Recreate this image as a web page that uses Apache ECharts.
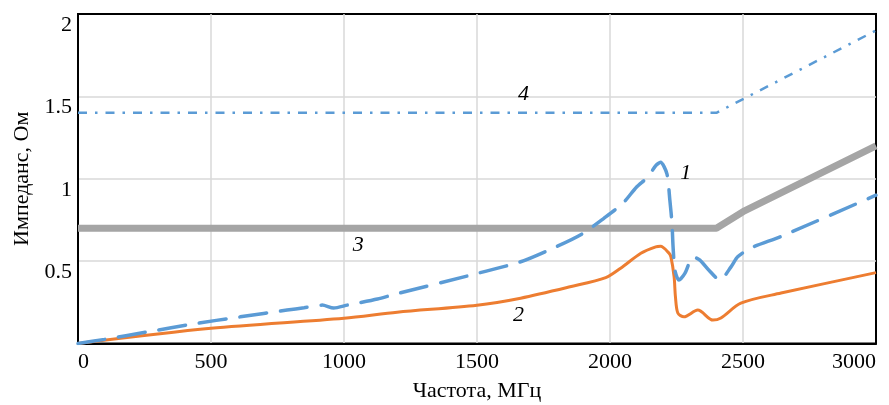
<!DOCTYPE html>
<html>
<head>
<meta charset="utf-8">
<script src="https://cdn.jsdelivr.net/npm/echarts@6/dist/echarts.min.js"></script>
<style>
  html, body { margin: 0; padding: 0; background: #fff; }
  #chart { width: 889px; height: 405px; }
</style>
</head>
<body>
<div id="chart"></div>
<script>
// частоты и импеданс по кривым 1-4
const freq1 = [0, 100, 260, 430, 610, 786, 850, 918, 961, 1013, 1126, 1194, 1500, 1664, 1788, 1890, 1977, 2048, 2100, 2142, 2172, 2190, 2214, 2225, 2233, 2237, 2244, 2259, 2282, 2312, 2338, 2372, 2413, 2455, 2480, 2530, 2643, 3000];
const imp1 = [0, 0.025, 0.07, 0.118, 0.162, 0.203, 0.217, 0.233, 0.215, 0.233, 0.27, 0.30, 0.425, 0.496, 0.58, 0.66, 0.76, 0.85, 0.95, 1.01, 1.08, 1.10, 1.03, 0.87, 0.73, 0.59, 0.445, 0.385, 0.427, 0.526, 0.506, 0.445, 0.385, 0.465, 0.526, 0.58, 0.65, 0.90];

const freq2 = [0, 500, 1000, 1200, 1500, 1664, 1850, 1984, 2040, 2116, 2172, 2190, 2221, 2229, 2241, 2246, 2255, 2278, 2330, 2387, 2417, 2492, 2643, 3000];
const imp2 = [0, 0.092, 0.153, 0.19, 0.232, 0.275, 0.344, 0.40, 0.457, 0.548, 0.587, 0.59, 0.55, 0.526, 0.405, 0.284, 0.185, 0.162, 0.203, 0.142, 0.155, 0.245, 0.306, 0.43];

const freq3 = [0, 2400, 2500, 3000];
const imp3 = [0.7, 0.7, 0.8, 1.2];

const freq4 = [0, 2400, 3000];
const imp4 = [1.4, 1.4, 1.9];

// подписи кривых: номер, частота, импеданс
const curveNames = ['1', '2', '3', '4'];
const nameFreq = [2285, 1656, 1054, 1675];
const nameImp = [1.033, 0.173, 0.597, 1.512];

const xTicks = [0, 500, 1000, 1500, 2000, 2500, 3000];
const yTicks = [0.5, 1, 1.5, 2];

const pairs = (xs, ys) => xs.map((x, i) => [x, ys[i]]);

const font = 'Liberation Serif, Times New Roman, serif';
const chart = echarts.init(document.getElementById('chart'));

chart.setOption({
  animation: false,
  grid: {
    left: 78, right: 13, top: 14, bottom: 61.5,
    outerBoundsMode: 'none',
    show: true, borderColor: '#000', borderWidth: 2
  },
  xAxis: {
    type: 'value', min: 0, max: 3000, interval: 500,
    name: 'Частота, МГц', nameLocation: 'middle', nameGap: 37,
    nameTextStyle: { fontFamily: font, fontSize: 22, color: '#000' },
    axisLine: { show: true, lineStyle: { color: '#000', width: 2 } },
    axisTick: { show: false },
    axisLabel: {
      fontFamily: font, fontSize: 22, color: '#000', margin: 8,
      alignMinLabel: 'left', alignMaxLabel: 'right',
      formatter: v => xTicks.includes(v) ? String(v) : ''
    },
    splitLine: { showMinLine: false, showMaxLine: false, lineStyle: { color: '#d9d9d9', width: 1.5 } }
  },
  yAxis: {
    type: 'value', min: 0, max: 2, interval: 0.5,
    name: 'Импеданс, Ом', nameLocation: 'middle', nameGap: 30,
    nameTextStyle: { fontFamily: font, fontSize: 22, color: '#000' },
    axisLine: { show: true, lineStyle: { color: '#000', width: 2 } },
    axisTick: { show: false },
    axisLabel: {
      fontFamily: font, fontSize: 22, color: '#000', margin: 6,
      verticalAlign: 'top', showMinLabel: false,
      formatter: v => yTicks.includes(v) ? String(v) : ''
    },
    splitLine: { showMinLine: false, showMaxLine: false, lineStyle: { color: '#d9d9d9', width: 1.5 } }
  },
  series: [
    {
      name: '3', type: 'line', data: pairs(freq3, imp3), symbol: 'none',
      lineStyle: { color: '#a5a5a5', width: 7 }, z: 2
    },
    {
      name: '4', type: 'line', data: pairs(freq4, imp4), symbol: 'none',
      lineStyle: { color: '#5b9bd5', width: 2.5, type: [9, 8, 2.5, 8] }, z: 3
    },
    {
      name: '2', type: 'line', data: pairs(freq2, imp2), symbol: 'none', smooth: 0.3,
      lineStyle: { color: '#ed7d31', width: 3 }, z: 4
    },
    {
      name: '1', type: 'line', data: pairs(freq1, imp1), symbol: 'none', smooth: 0.25,
      lineStyle: { color: '#5b9bd5', width: 3.5, type: [27, 14], cap: 'round' }, z: 5,
      markPoint: {
        symbol: 'circle', symbolSize: 0, silent: true,
        label: {
          show: true, position: 'inside', fontFamily: font, fontSize: 22,
          fontStyle: 'italic', color: '#000',
          formatter: p => p.name
        },
        data: curveNames.map((n, i) => ({ name: n, coord: [nameFreq[i], nameImp[i]] }))
      }
    }
  ]
});
</script>
</body>
</html>
